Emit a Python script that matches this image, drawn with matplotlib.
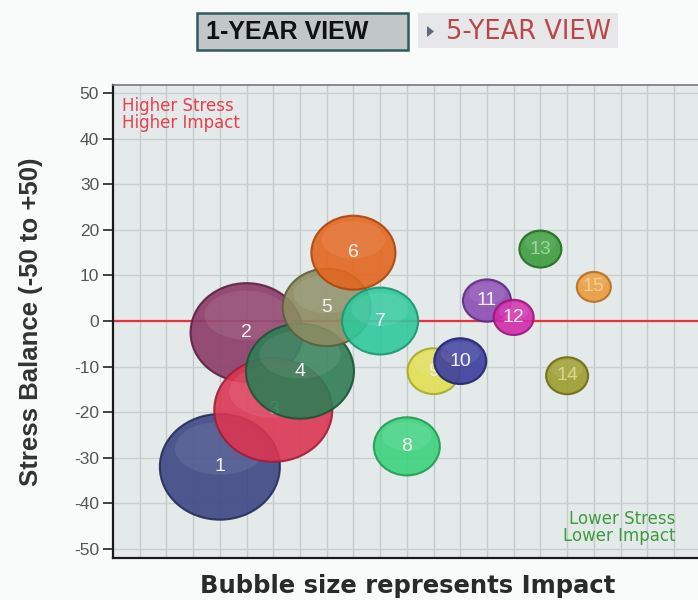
import matplotlib
matplotlib.use("Agg")
import matplotlib.pyplot as plt
from matplotlib.patches import Ellipse, Rectangle, Polygon
import numpy as np

plt.rcParams['font.family'] = ['Liberation Sans', 'DejaVu Sans']

# ---- data ----
labels = ["1", "2", "3", "4", "5", "6", "7", "8", "9", "10", "11", "12", "13", "14", "15"]
rank_x = [4, 5, 6, 7, 8, 9, 10, 11, 12, 13, 14, 15, 16, 17, 18]
stress = [-32, -2.5, -19.5, -11, 3, 15, 0, -27.5, -11, -8.8, 4.5, 0.8, 15.8, -12, 7.5]
impact = [60, 56, 59, 54, 44, 42, 38, 33, 26, 26, 24, 20, 21, 21, 17]
colors = ["#3d4784", "#8b3b68", "#dc3552", "#2f7d55", "#8c8c62", "#e3661f",
          "#2fc99c", "#3bd27c", "#e2e055", "#3b3d9e", "#8b4db4", "#d22cab",
          "#3d9c3d", "#9c9c2e", "#eb9c3c"]
edges = ["#252c5a", "#5c2043", "#a11d37", "#1c5437", "#5e5e3e", "#a9460f",
         "#1c9670", "#239a55", "#a9a82c", "#23256e", "#5e2c82", "#99177a",
         "#236b23", "#6b6b17", "#b56e20"]
label_colors = ["#f2f2f2"] * 12 + ["#9bd89b", "#d8d88a", "#f8cc94"]
yticks = [50, 40, 30, 20, 10, 0, -10, -20, -30, -40, -50]

W, H = 698, 600
fig = plt.figure(figsize=(W / 100, H / 100), dpi=100)
fig.patch.set_facecolor("#f8fbfa")

ax_l, ax_r, ax_t, ax_b = 113, 698, 85, 558
ax = fig.add_axes([ax_l / W, 1 - ax_b / H, (ax_r - ax_l) / W, (ax_b - ax_t) / H])
ax.set_facecolor("#e4e9e9")
xmax = 21.9
ax.set_xlim(0, xmax)
ax.set_ylim(-52, 51.8)

# grid
for gx in range(1, 22):
    ax.axvline(gx, color="#c3cbcb", lw=1.0, zorder=0)
for gy in yticks:
    ax.axhline(gy, color="#c9d0d0", lw=1.0, zorder=0)

ax.axhline(0, color="#e8323c", lw=1.6, zorder=1)

# px -> data scale
px_per_x = (ax_r - ax_l) / xmax
px_per_y = (ax_b - ax_t) / (51.8 + 52)
aspect = 0.88

for i in range(len(labels)):
    r = impact[i]
    z = 2 + 2 * i
    e = Ellipse((rank_x[i], stress[i]), width=2 * r / px_per_x,
                height=2 * r * aspect / px_per_y,
                facecolor=colors[i], edgecolor=edges[i], lw=1.5, alpha=0.9,
                zorder=z)
    ax.add_patch(e)
    hl = Ellipse((rank_x[i], stress[i] + r * aspect * 0.35 / px_per_y),
                 width=1.5 * r / px_per_x, height=1.0 * r * aspect / px_per_y,
                 facecolor="white", edgecolor="none", alpha=0.08, zorder=z)
    ax.add_patch(hl)
    ax.text(rank_x[i], stress[i], labels[i], ha="center", va="center",
            fontsize=14, color=label_colors[i], zorder=z + 1)

ax.set_xticks([])
ax.set_yticks(yticks)
ax.set_yticklabels([str(t) for t in yticks], color="#555555", fontsize=12.5)
ax.tick_params(axis="y", direction="out", length=7, width=1.2, color="#222222", pad=3)
for s in ["left", "bottom"]:
    ax.spines[s].set_color("#1a1a1a")
    ax.spines[s].set_linewidth(1.6)
ax.spines["top"].set_color("#777777")
ax.spines["top"].set_linewidth(1.2)
ax.spines["right"].set_visible(False)

ax.set_ylabel("Stress Balance (-50 to +50)", fontsize=18.5, fontweight="bold",
              color="#333333")
ax.yaxis.set_label_coords((43 - ax_l) / (ax_r - ax_l), 0.5)
fig.text(408 / W, 1 - 586 / H, "Bubble size represents Impact", ha="center",
         va="center", fontsize=17.5, fontweight="bold", color="#2a2a2a",
         family="DejaVu Sans")

ax.text(0.016, 0.975, "Higher Stress\nHigher Impact", transform=ax.transAxes,
        ha="left", va="top", fontsize=12, color="#e8404c", linespacing=0.95,
        family="DejaVu Sans")
ax.text(0.962, 0.027, "Lower Stress\nLower Impact", transform=ax.transAxes,
        ha="right", va="bottom", fontsize=12, color="#3d9d3d", linespacing=0.95,
        family="DejaVu Sans")

# header buttons
fig.patches.append(Rectangle((197 / W, 1 - 50 / H), 211 / W, 37 / H,
                             transform=fig.transFigure, facecolor="#c3c6c6",
                             edgecolor="#2f5c63", lw=1.8))
fig.text(206 / W, 1 - 32 / H, "1-YEAR VIEW", ha="left", va="center",
         fontsize=18, fontweight="bold", color="#111111")
fig.patches.append(Rectangle((418 / W, 1 - 48 / H), 200 / W, 35 / H,
                             transform=fig.transFigure, facecolor="#e7e7ea",
                             edgecolor="none"))
fig.patches.append(Polygon([[427 / W, 1 - 26 / H], [427 / W, 1 - 37 / H],
                            [434 / W, 1 - 31.5 / H]], closed=True,
                           transform=fig.transFigure, facecolor="#5a6a7a",
                           edgecolor="none"))
fig.text(446 / W, 1 - 32 / H, "5-YEAR VIEW", ha="left", va="center",
         fontsize=18.5, color="#b8474a", family="DejaVu Sans")

fig.savefig("out.png", dpi=100, facecolor=fig.get_facecolor())
